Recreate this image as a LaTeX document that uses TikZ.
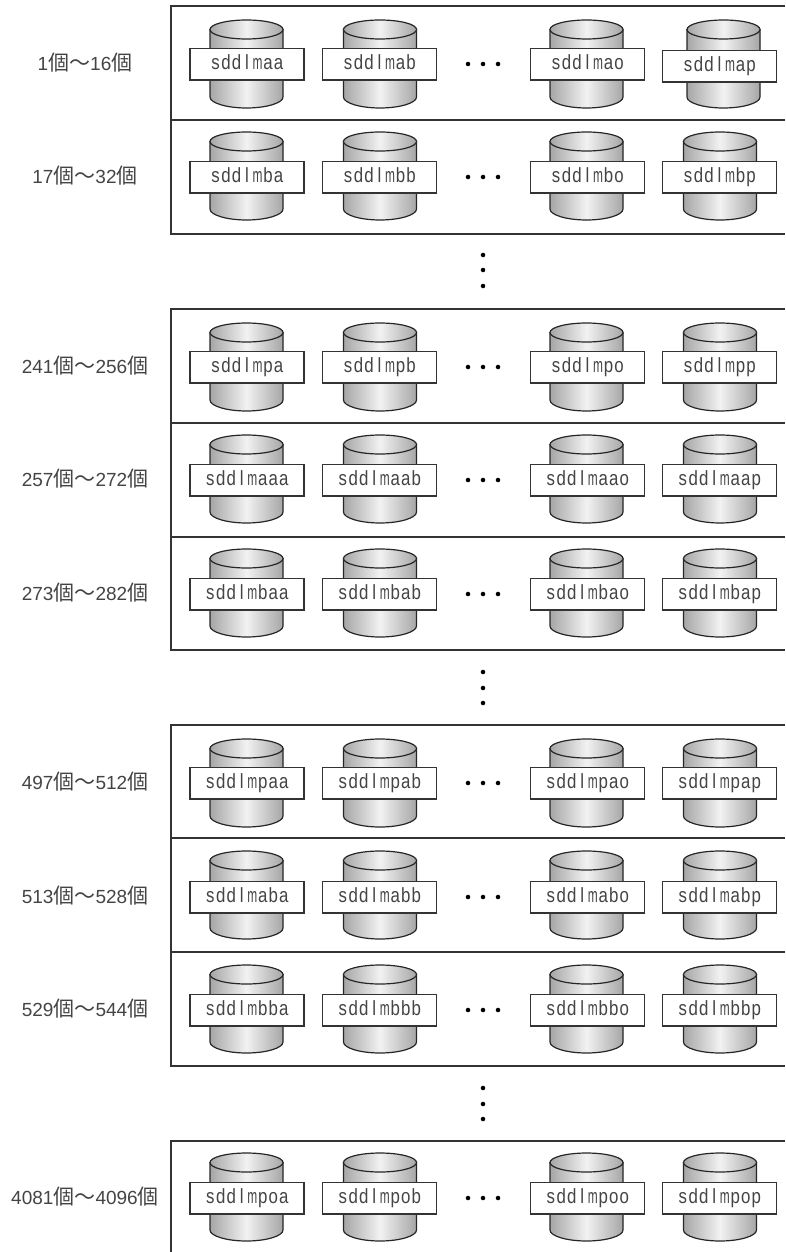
\documentclass[tikz,border=0pt]{standalone}
\usepackage{fontspec}
\setmainfont{Liberation Sans}
\newfontfamily\cjk{Noto Sans CJK JP}
\newfontfamily\lblfont[FakeStretch=0.82]{Liberation Sans}
\newfontfamily\mfont[FakeStretch=0.58]{Liberation Sans}
\definecolor{ink}{HTML}{333333}
\definecolor{txt}{HTML}{444444}
\definecolor{cyldark}{HTML}{A6A6A6}
\definecolor{cyllight}{HTML}{F2F2F2}
\def\monoloop#1{\ifx#1\relax\else\makebox[7.875pt]{\if m#1\mfont\fontsize{15.4pt}{16pt}\selectfont m\else #1\fi}\expandafter\monoloop\fi}
\newcommand{\monotext}[1]{\lblfont\fontsize{15.4pt}{16pt}\selectfont\monoloop#1\relax}
\newcommand{\ko}{{\cjk\fontsize{15.75pt}{16pt}\selectfont 個}}
\newcommand{\til}{{\cjk\fontsize{15.75pt}{16pt}\selectfont ～}}
\tikzset{
  framecut/.style={draw=ink,line width=1.1pt},
  cylbody/.style={draw=black!85,line width=0.9pt,left color=cyldark,right color=cyldark,middle color=cyllight},
  namebox/.style={draw=ink,line width=1pt,fill=white,rectangle,minimum width=85.5pt,minimum height=23.4pt,inner sep=0pt,text=txt,anchor=north,text height=11.5pt,text depth=3.5pt},
  rowlabel/.style={text=txt,font=\fontsize{14.25pt}{16pt}\selectfont,inner sep=0pt},
  dotmark/.style={fill=black,circle,inner sep=0pt,minimum size=3.4pt}
}
% cylinder centre x, box centre x, cylinder top y, box top y, name
\newcommand{\disk}[5]{%
  \begin{scope}[shift={(#1,#3)}]
    \path[cylbody] (-36.5,9.5) -- (-36.5,77) .. controls (-36.5,83) and (-20,88) .. (0,88)
      .. controls (20,88) and (36.5,83) .. (36.5,77) -- (36.5,9.5) -- cycle;
    \path[cylbody] (0,9.5) ellipse (36.5 and 9.5);
  \end{scope}
  \node[namebox] (#5) at (#2,#4) {\monotext{#5}};
}
\newcommand{\diskrow}[7]{%
  \disk{246.5}{247}{#2}{#3}{#4}
  \disk{380}{379.5}{#2}{#3}{#5}
  \disk{586.5}{587.5}{#2}{#3}{#6}
  \disk{720}{719.5}{#2}{#3}{#7}
  \node[rowlabel] (lab#4) at (85,#3+15) {#1};
  \node[dotmark] (d1#4) at (468,#3+16) {};
  \node[dotmark] (d2#4) at (483,#3+16) {};
  \node[dotmark] (d3#4) at (498,#3+16) {};
}
\begin{document}
\begin{tikzpicture}[x=0.75pt,y=-0.75pt]
\path[use as bounding box] (0,0) rectangle (785,1252);
% frames
\draw[framecut] (785,6) -- (171,6) -- (171,234) -- (785,234);
\draw[framecut] (171,120) -- (785,120);
\draw[framecut] (785,309) -- (171,309) -- (171,650) -- (785,650);
\draw[framecut] (171,423) -- (785,423);
\draw[framecut] (171,537) -- (785,537);
\draw[framecut] (785,725) -- (171,725) -- (171,1066) -- (785,1066);
\draw[framecut] (171,838) -- (785,838);
\draw[framecut] (171,952) -- (785,952);
\draw[framecut] (785,1141) -- (171,1141) -- (171,1252);
% row 1 (last disk sits a little differently)
\disk{246.5}{247}{20}{48}{sddlmaa}
\disk{380}{379.5}{20}{48}{sddlmab}
\disk{586.5}{587.5}{20}{48}{sddlmao}
\disk{723.5}{719.5}{20}{50}{sddlmap}
\node[rowlabel] (lab1) at (85,63) {1\ko\til 16\ko};
\node[dotmark] (d11) at (468,64) {};
\node[dotmark] (d21) at (483,64) {};
\node[dotmark] (d31) at (498,64) {};
% other rows
\diskrow{17\ko\til 32\ko}{132}{161}{sddlmba}{sddlmbb}{sddlmbo}{sddlmbp}
\diskrow{241\ko\til 256\ko}{323}{351}{sddlmpa}{sddlmpb}{sddlmpo}{sddlmpp}
\diskrow{257\ko\til 272\ko}{435}{464}{sddlmaaa}{sddlmaab}{sddlmaao}{sddlmaap}
\diskrow{273\ko\til 282\ko}{549}{578}{sddlmbaa}{sddlmbab}{sddlmbao}{sddlmbap}
\diskrow{497\ko\til 512\ko}{739}{767}{sddlmpaa}{sddlmpab}{sddlmpao}{sddlmpap}
\diskrow{513\ko\til 528\ko}{851}{881}{sddlmaba}{sddlmabb}{sddlmabo}{sddlmabp}
\diskrow{529\ko\til 544\ko}{965}{994}{sddlmbba}{sddlmbbb}{sddlmbbo}{sddlmbbp}
\diskrow{4081\ko\til 4096\ko}{1153}{1182}{sddlmpoa}{sddlmpob}{sddlmpoo}{sddlmpop}
% vertical ellipses
\node[dotmark] (v11) at (483,255) {};
\node[dotmark] (v12) at (483,270) {};
\node[dotmark] (v13) at (483,286) {};
\node[dotmark] (v21) at (483,672) {};
\node[dotmark] (v22) at (483,688) {};
\node[dotmark] (v23) at (483,703) {};
\node[dotmark] (v31) at (483,1088) {};
\node[dotmark] (v32) at (483,1104) {};
\node[dotmark] (v33) at (483,1119) {};
\end{tikzpicture}
\end{document}
